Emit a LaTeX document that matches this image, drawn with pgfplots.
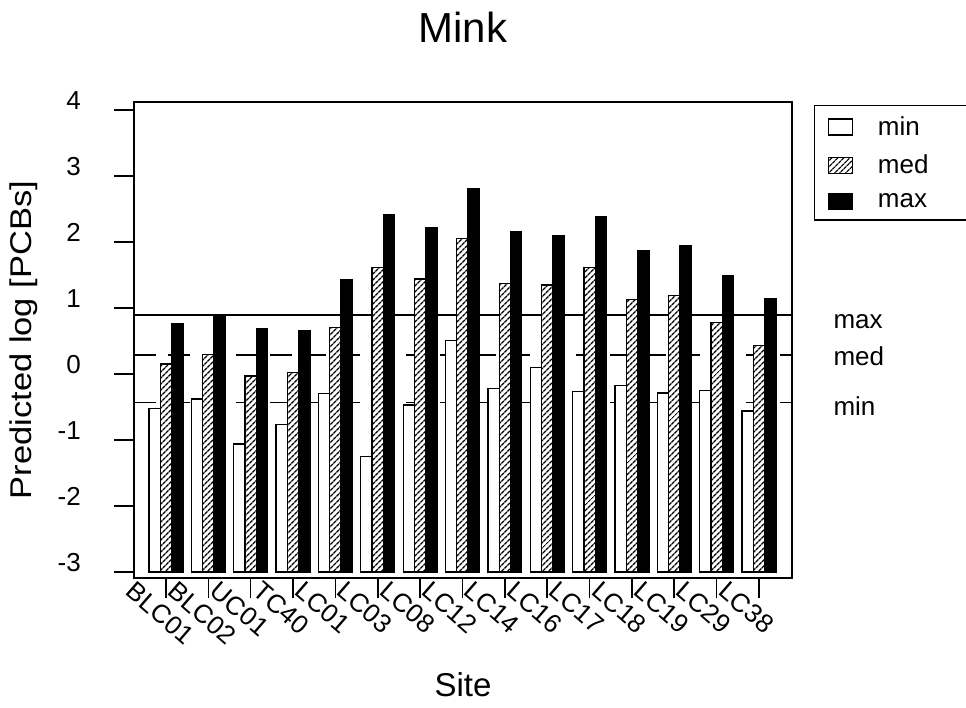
\documentclass[border=0pt]{standalone}
\usepackage{fontspec}
\setmainfont{Liberation Sans}
\newfontfamily\ylabfont{Liberation Sans}[FakeStretch=1.15]
\usepackage{pgfplots}
\usepackage{pgfplotstable}
\pgfplotsset{compat=1.18}
\usetikzlibrary{patterns.meta}

\pgfplotstableread{
x  site   min    med    max
0  BLC01  -0.52  0.15   0.76
1  BLC02  -0.38  0.30   0.90
2  UC01   -1.06  -0.03  0.69
3  TC40   -0.76  0.02   0.66
4  LC01   -0.30  0.70   1.43
5  LC03   -1.25  1.61   2.42
6  LC08   -0.47  1.44   2.22
7  LC12   0.51   2.05   2.80
8  LC14   -0.22  1.37   2.16
9  LC16   0.10   1.35   2.10
10 LC17   -0.27  1.61   2.39
11 LC18   -0.17  1.13   1.87
12 LC19   -0.29  1.19   1.94
13 LC29   -0.25  0.78   1.49
14 LC38   -0.56  0.43   1.14
}\datatable

\pgfplotsset{
  mylegend/.style={legend image code/.code={\draw[##1, line width=1.2pt] (0pt,-8pt) rectangle (24pt,8pt);}},
}

\begin{document}
\begin{tikzpicture}
\path[use as bounding box] (0,0) rectangle (966pt,708pt);
\begin{axis}[
  at={(134pt,130pt)}, anchor=south west,
  scale only axis, width=658pt, height=476pt,
  xmin=-0.755, xmax=14.78, ymin=-0.09, ymax=7.12,
  y filter/.expression={y+3},
  xtick={0,...,14},
  xticklabels={BLC01,BLC02,UC01,TC40,LC01,LC03,LC08,LC12,LC14,LC16,LC17,LC18,LC19,LC29,LC38},
  ytick={0,...,7},
  yticklabels={-3,-2,-1,0,1,2,3,4},
  tick align=outside, xtick pos=bottom, ytick pos=left,
  major tick length=20pt,
  axis line style={line width=1.8pt},
  every tick/.style={black, line width=1.6pt},
  tick label style={font=\fontsize{26}{30}\selectfont},
  yticklabel style={anchor=south east, inner sep=0pt, xshift=-33pt},
  xticklabel style={xshift=-30pt, yshift=18pt, rotate=-41, anchor=north west, inner sep=0pt},
  title={Mink},
  title style={font=\fontsize{42}{46}\selectfont, at={(axis description cs:0.5,1.113)}, anchor=base},
  xlabel={Site},
  xlabel style={font=\fontsize{33}{38}\selectfont, at={(axis description cs:0.5,-0.2500)}, anchor=base},
  ylabel={Predicted log [PCBs]},
  ylabel style={font=\ylabfont\fontsize{30}{34}\selectfont, at={(axis description cs:-0.1672,0.5)}, anchor=center},
  legend style={at={(1.0334,0.9937)}, anchor=north west, draw=black, line width=1.5pt, fill=white,
    inner xsep=13pt, inner ysep=10pt, row sep=16pt, column sep=24pt,
    font=\fontsize{26}{30}\selectfont, nodes={inner sep=1pt}},
  legend cell align=left,
]
% reference lines (drawn first, bars cover them)
\addplot[forget plot, black, line width=1.6pt, no marks] coordinates {(-0.755,0.89) (14.78,0.89)};
\addplot[forget plot, black, line width=1.6pt, no marks, dash pattern=on 22pt off 12pt] coordinates {(-0.755,0.29) (14.78,0.29)};
\addplot[forget plot, black, line width=1.6pt, no marks, dash pattern=on 22pt off 12pt] coordinates {(-0.755,-0.43) (14.78,-0.43)};

\addplot[ybar, bar width=11.3pt, bar shift=-11.3pt, draw=black, line width=1.3pt, fill=white, mylegend]
  table[x=x, y=min] {\datatable};
\addlegendentry{min\hspace*{60pt}}
\addplot[ybar, bar width=11.3pt, bar shift=0pt, draw=black, line width=1.3pt, fill=white,
  postaction={pattern={Lines[angle=45, distance=4pt, line width=1.4pt]}}, mylegend]
  table[x=x, y=med] {\datatable};
\addlegendentry{med}
\addplot[ybar, bar width=11.3pt, bar shift=11.3pt, draw=black, line width=1.3pt, fill=black, mylegend]
  table[x=x, y=max] {\datatable};
\addlegendentry{max}
\end{axis}
\node[anchor=base west, font=\fontsize{26}{30}\selectfont] at (830pt,379pt) {max};
\node[anchor=base west, font=\fontsize{26}{30}\selectfont] at (830pt,342pt) {med};
\node[anchor=base west, font=\fontsize{26}{30}\selectfont] at (830pt,292pt) {min};
\end{tikzpicture}
\end{document}
